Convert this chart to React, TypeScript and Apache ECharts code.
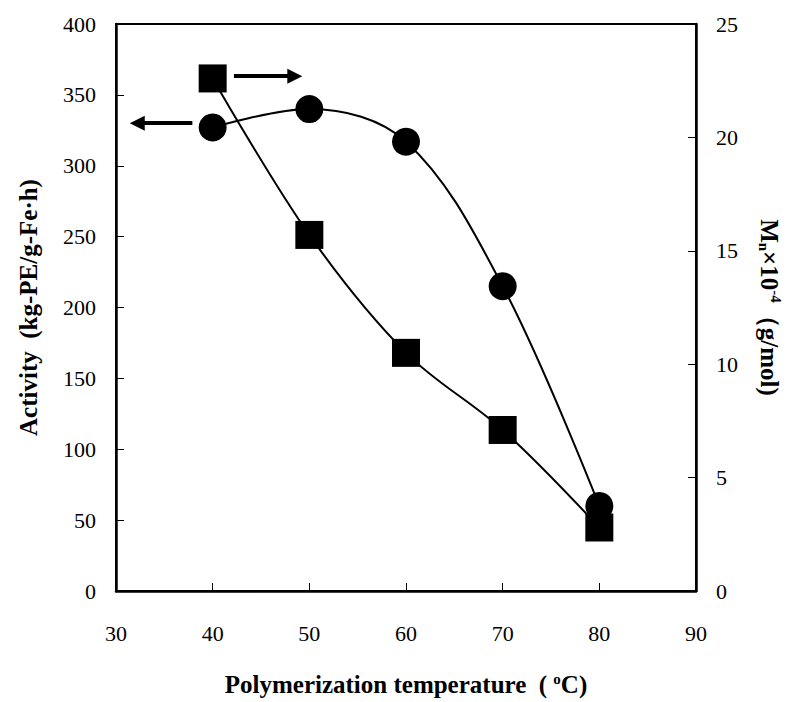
import React, { useEffect, useRef } from "react";
import * as echarts from "echarts";

const temps = [40, 50, 60, 70, 80];
const activity = [327, 340, 317, 215, 60];
const mn = [22.6, 15.7, 10.5, 7.1, 2.8];
const leftArrow = { from: [37.9, 330], to: [32.2, 330] };
const rightArrow = { from: [42.2, 22.7], to: [48.5, 22.7] };

const FONT = "'Liberation Serif', 'Times New Roman', serif";

export default function App() {
  const ref = useRef<HTMLDivElement>(null);
  useEffect(() => {
    const chart = echarts.init(ref.current!, null, { renderer: "svg" });
    const axisLabel = { color: "#000", fontFamily: FONT, fontSize: 22 };
    const nameStyle = { color: "#000", fontFamily: FONT, fontSize: 25, fontWeight: "bold" };
    chart.setOption({
      animation: false,
      backgroundColor: "#fff",
      textStyle: { fontFamily: FONT },
      grid: { left: 116, right: 98, top: 24, bottom: 111, show: true, borderColor: "#000", borderWidth: 2 },
      xAxis: {
        type: "value",
        min: 30,
        max: 90,
        interval: 10,
        axisLine: { lineStyle: { color: "#000", width: 2.5 } },
        axisTick: { inside: true, length: 8, lineStyle: { color: "#000", width: 1 } },
        splitLine: { show: false },
        axisLabel: { ...axisLabel, margin: 31 },
        name: "Polymerization temperature  ( {sup|o}C)",
        nameLocation: "middle",
        nameGap: 80,
        nameTextStyle: {
          ...nameStyle,
          rich: { sup: { ...nameStyle, fontSize: 15, padding: [0, 0, 12, 0] } },
        },
      },
      yAxis: [
        {
          type: "value",
          min: 0,
          max: 400,
          interval: 50,
          position: "left",
          axisLine: { show: true, lineStyle: { color: "#000", width: 2.5 } },
          axisTick: { show: true, inside: true, length: 8, lineStyle: { color: "#000", width: 1 } },
          splitLine: { show: false },
          axisLabel: { ...axisLabel, margin: 20 },
          name: "Activity  (kg-PE/g-Fe·h)",
          nameLocation: "middle",
          nameGap: 75,
          nameRotate: 90,
          nameTextStyle: nameStyle,
        },
        {
          type: "value",
          min: 0,
          max: 25,
          interval: 5,
          position: "right",
          axisLine: { show: true, lineStyle: { color: "#000", width: 2.5 } },
          axisTick: { show: true, inside: true, length: 8, lineStyle: { color: "#000", width: 1 } },
          splitLine: { show: false },
          axisLabel: { ...axisLabel, margin: 20 },
          name: "M{sub|n}×10{sup|-4}（g/mol)",
          nameLocation: "middle",
          nameGap: 60,
          nameRotate: -90,
          nameTextStyle: {
            ...nameStyle,
            rich: {
              sub: { ...nameStyle, fontSize: 15, padding: [12, 0, 0, 0] },
              sup: { ...nameStyle, fontSize: 15, padding: [0, 0, 12, 0] },
            },
          },
        },
      ],
      series: [
        {
          type: "line",
          yAxisIndex: 0,
          data: temps.map((t, i) => [t, activity[i]]),
          smooth: 0.35,
          symbol: "circle",
          symbolSize: 28,
          itemStyle: { color: "#000" },
          lineStyle: { color: "#000", width: 2 },
          markLine: {
            silent: true,
            symbol: ["none", "triangle"],
            symbolSize: [15, 15],
            label: { show: false },
            lineStyle: { color: "#000", width: 4, type: "solid" },
            data: [[{ coord: leftArrow.from }, { coord: leftArrow.to }]],
          },
        },
        {
          type: "line",
          yAxisIndex: 1,
          data: temps.map((t, i) => [t, mn[i]]),
          smooth: 0.35,
          symbol: "rect",
          symbolSize: 28,
          itemStyle: { color: "#000" },
          lineStyle: { color: "#000", width: 2 },
          markLine: {
            silent: true,
            symbol: ["none", "triangle"],
            symbolSize: [15, 15],
            label: { show: false },
            lineStyle: { color: "#000", width: 4, type: "solid" },
            data: [[{ coord: rightArrow.from }, { coord: rightArrow.to }]],
          },
        },
      ],
    });
    return () => chart.dispose();
  }, []);
  return (
    <div
      ref={ref}
      style={{ position: "absolute", left: 0, top: 0, width: 794, height: 702 }}
    />
  );
}
